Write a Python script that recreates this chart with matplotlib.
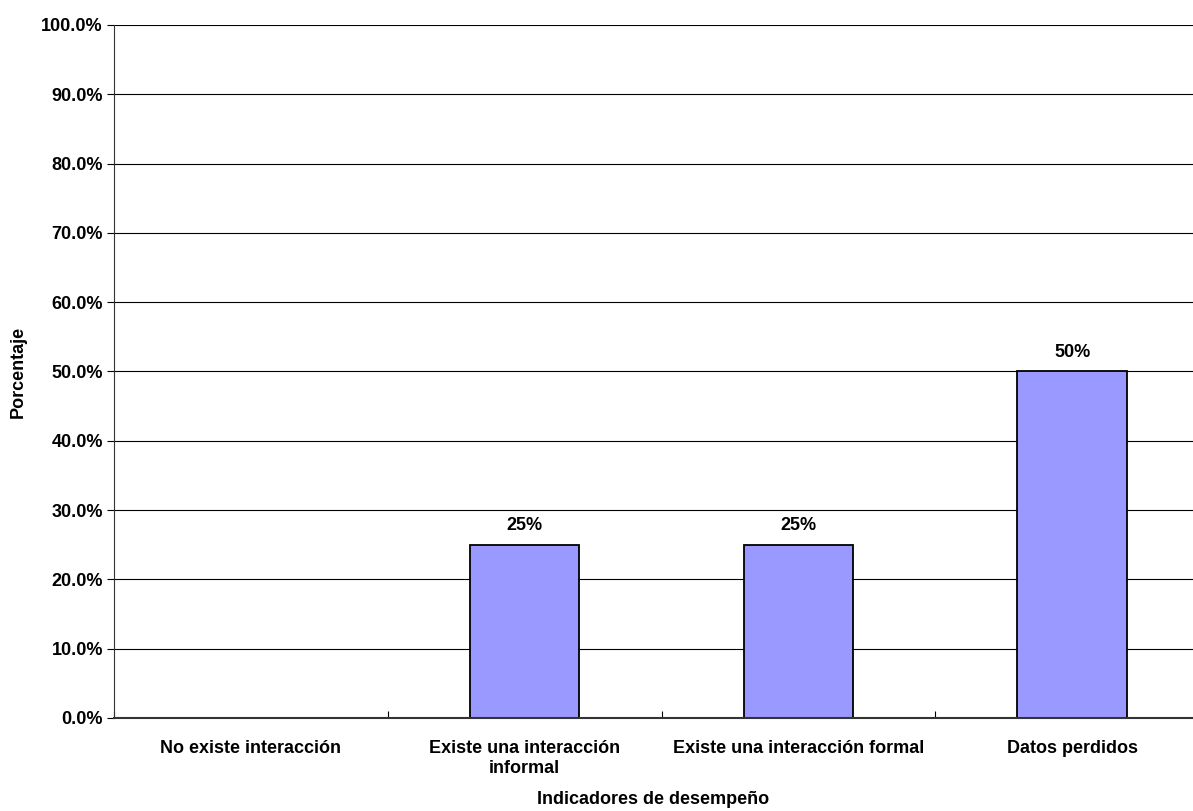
import matplotlib
matplotlib.use("Agg")
import matplotlib.pyplot as plt
from matplotlib.ticker import FuncFormatter, MultipleLocator

categories = ["No existe interacción", "Existe una interacción\ninformal",
              "Existe una interacción formal", "Datos perdidos"]
values = [0.0, 25.0, 25.0, 50.0]
labels = ["", "25%", "25%", "50%"]

plt.rcParams['font.family'] = ['Liberation Sans', 'DejaVu Sans']
plt.rcParams['font.weight'] = 'bold'
FS = 13

fig = plt.figure(figsize=(11.93, 8.11), dpi=100)
W, H = 1193, 811
left, right, top, bottom = 114, 1209, 25, 718
ax = fig.add_axes([left / W, 1 - bottom / H, (right - left) / W, (bottom - top) / H])

x = list(range(len(categories)))
bars = ax.bar(x, values, width=0.4, color='#9999ff', edgecolor='black', linewidth=1.3, zorder=2)
for xi, v, lab in zip(x, values, labels):
    if lab:
        ax.text(xi, v + 1.5, lab, ha='center', va='bottom', fontsize=FS, fontweight='bold')

ax.set_xlim(-0.5, len(categories) - 0.5)
ax.set_ylim(0, 100)
ax.yaxis.set_major_locator(MultipleLocator(10))
ax.yaxis.set_major_formatter(FuncFormatter(lambda v, p: f"{v:.1f}%"))
ax.grid(axis='y', color='black', linewidth=0.8, zorder=0)
ax.set_axisbelow(True)

ax.set_xticks([i + 0.5 for i in range(-1, len(categories))], minor=False)
ax.set_xticklabels([])
ax.set_xticks(x, minor=True)
ax.set_xticklabels(categories, minor=True, fontsize=FS, fontweight='bold')
ax.tick_params(axis='x', which='minor', length=0, pad=16)
ax.tick_params(axis='x', which='major', length=5, width=0.8, direction='in')
ax.tick_params(axis='y', length=5, width=0.8, direction='out', labelsize=FS, pad=3)
for lab in ax.get_yticklabels():
    lab.set_fontweight('bold')

ax.spines['top'].set_visible(False)
ax.spines['right'].set_visible(False)
ax.spines['left'].set_color('#333333')
ax.spines['bottom'].set_color('#333333')
ax.spines['bottom'].set_linewidth(1.5)
ax.spines['bottom'].set_zorder(3)

fig.text(18 / W, 1 - 372 / H, "Porcentaje", rotation=90, ha='center', va='center',
         fontsize=FS, fontweight='bold')
fig.text((left + 1193) / 2 / W, 1 - 800 / H, "Indicadores de desempeño", ha='center', va='center',
         fontsize=FS, fontweight='bold')

fig.savefig("out.png", dpi=100)
